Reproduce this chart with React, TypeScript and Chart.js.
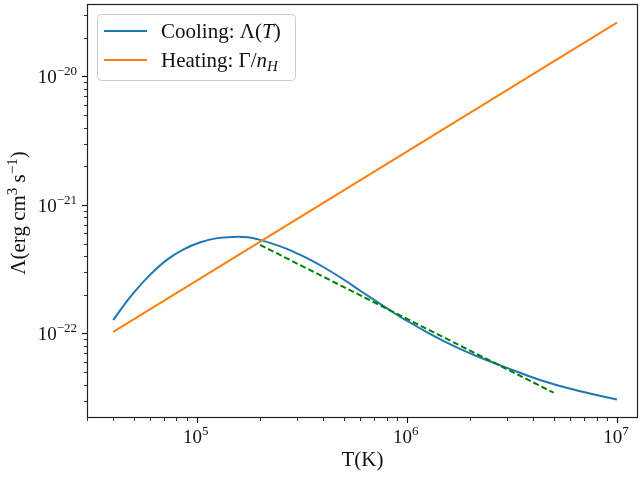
import React, { useEffect, useRef } from "react";
import { Chart, registerables } from "chart.js";

Chart.register(...registerables);

// ---- data ----
const coolingT = [4e4, 4.5e4, 5e4, 6e4, 7.2e4, 8.65e4, 1.04e5, 1.25e5, 1.5e5, 1.75e5, 2e5, 2.5e5, 2.89e5, 3.4e5, 4e5, 5e5, 6e5, 8.65e5, 1e6, 1.25e6, 1.5e6, 1.8e6, 2.2e6, 3e6, 4.3e6, 6.2e6, 1e7];
const coolingL = [1.27e-22, 1.66e-22, 2.07e-22, 2.87e-22, 3.74e-22, 4.51e-22, 5.13e-22, 5.52e-22, 5.64e-22, 5.6e-22, 5.35e-22, 4.76e-22, 4.32e-22, 3.81e-22, 3.29e-22, 2.63e-22, 2.15e-22, 1.45e-22, 1.256e-22, 1.02e-22, 8.71e-23, 7.55e-23, 6.56e-23, 5.4e-23, 4.35e-23, 3.66e-23, 3.06e-23];
const heatingT = [4e4, 1e7];
const heatingL = [1.03e-22, 2.62e-20];
const fitT = [2e5, 5e6];
const fitL = [4.89e-22, 3.46e-23];
const xTickExps = [5, 6, 7];
const yTickExps = [-22, -21, -20];
const X_MIN = 3.0e4;
const X_MAX = 1.26e7;
const Y_MIN = 2.2e-23;
const Y_MAX = 3.66e-20;

const FONT = '"Liberation Serif", "DejaVu Serif", serif';
const TEXT = "#111";

type Seg = { t: string; size: number; italic?: boolean; dy?: number };

function segFont(s: Seg) {
  return `${s.italic ? "italic " : ""}${s.size}px ${FONT}`;
}

function richWidth(ctx: CanvasRenderingContext2D, segs: Seg[]) {
  let w = 0;
  for (const s of segs) {
    ctx.font = segFont(s);
    w += ctx.measureText(s.t).width;
  }
  return w;
}

function drawRich(ctx: CanvasRenderingContext2D, segs: Seg[], x: number, y: number, align: "left" | "center" | "right") {
  const w = richWidth(ctx, segs);
  let cx = align === "center" ? x - w / 2 : align === "right" ? x - w : x;
  ctx.textAlign = "left";
  ctx.textBaseline = "alphabetic";
  for (const s of segs) {
    ctx.font = segFont(s);
    ctx.fillText(s.t, cx, y + (s.dy || 0));
    cx += ctx.measureText(s.t).width;
  }
}

function powSegs(exp: number, size: number): Seg[] {
  const e = exp < 0 ? "\u2212" + Math.abs(exp) : String(exp);
  return [
    { t: "10", size },
    { t: e, size: Math.round(size * 0.7), dy: -Math.round(size * 0.42) },
  ];
}

const mplPlugin = {
  id: "mplAxes",
  afterDatasetsDraw(chart: any) {
    const { ctx, chartArea: a, scales } = chart;
    const xs = scales.x;
    const ys = scales.y;
    ctx.save();
    ctx.strokeStyle = "#000";
    ctx.fillStyle = TEXT;

    // x ticks
    for (let e = 4; e <= 7; e++) {
      for (let m = 1; m <= 9; m++) {
        const v = m * Math.pow(10, e);
        if (v < xs.min || v > xs.max) continue;
        const px = Math.round(xs.getPixelForValue(v)) + 0.5;
        const major = m === 1;
        ctx.lineWidth = major ? 1.1 : 0.8;
        ctx.beginPath();
        ctx.moveTo(px, a.bottom);
        ctx.lineTo(px, a.bottom + (major ? 5 : 3));
        ctx.stroke();
      }
    }
    // y ticks
    for (let e = -23; e <= -20; e++) {
      for (let m = 1; m <= 9; m++) {
        const v = m * Math.pow(10, e);
        if (v < ys.min || v > ys.max) continue;
        const py = Math.round(ys.getPixelForValue(v)) + 0.5;
        const major = m === 1;
        ctx.lineWidth = major ? 1.1 : 0.8;
        ctx.beginPath();
        ctx.moveTo(a.left, py);
        ctx.lineTo(a.left - (major ? 5 : 3), py);
        ctx.stroke();
      }
    }

    // frame
    ctx.lineWidth = 1.2;
    ctx.strokeStyle = "#222";
    ctx.strokeRect(Math.round(a.left) + 0.5, Math.round(a.top) + 0.5, Math.round(a.right - a.left) - 1, Math.round(a.bottom - a.top) - 1);

    // tick labels
    ctx.fillStyle = TEXT;
    for (const e of xTickExps) {
      const px = xs.getPixelForValue(Math.pow(10, e));
      drawRich(ctx, powSegs(e, 19), px - 1, a.bottom + 25, "center");
    }
    for (const e of yTickExps) {
      const py = ys.getPixelForValue(Math.pow(10, e));
      drawRich(ctx, powSegs(e, 19), a.left - 10, py + 7, "right");
    }

    // axis labels
    drawRich(ctx, [{ t: "T(K)", size: 21 }], (a.left + a.right) / 2, 466, "center");
    ctx.save();
    ctx.translate(25, (a.top + a.bottom) / 2 + 2);
    ctx.rotate(-Math.PI / 2);
    drawRich(
      ctx,
      [
        { t: "\u039B(erg cm", size: 21 },
        { t: "3", size: 15, dy: -8 },
        { t: " s", size: 21 },
        { t: "\u22121", size: 15, dy: -8 },
        { t: ")", size: 21 },
      ],
      0,
      0,
      "center"
    );
    ctx.restore();

    // legend
    const bx = 97.5, by = 14.5, bw = 198, bh = 66, r = 4;
    ctx.beginPath();
    ctx.moveTo(bx + r, by);
    ctx.lineTo(bx + bw - r, by);
    ctx.quadraticCurveTo(bx + bw, by, bx + bw, by + r);
    ctx.lineTo(bx + bw, by + bh - r);
    ctx.quadraticCurveTo(bx + bw, by + bh, bx + bw - r, by + bh);
    ctx.lineTo(bx + r, by + bh);
    ctx.quadraticCurveTo(bx, by + bh, bx, by + bh - r);
    ctx.lineTo(bx, by + r);
    ctx.quadraticCurveTo(bx, by, bx + r, by);
    ctx.closePath();
    ctx.fillStyle = "rgba(255,255,255,0.8)";
    ctx.fill();
    ctx.lineWidth = 1;
    ctx.strokeStyle = "#cccccc";
    ctx.stroke();

    const rows = [
      { color: "#1f77b4", y: 31, segs: [{ t: "Cooling: \u039B(", size: 21 }, { t: "T", size: 21, italic: true }, { t: ")", size: 21 }] as Seg[] },
      { color: "#ff7f0e", y: 60, segs: [{ t: "Heating: \u0393/", size: 21 }, { t: "n", size: 21, italic: true }, { t: "H", size: 15, italic: true, dy: 4 }] as Seg[] },
    ];
    for (const row of rows) {
      ctx.strokeStyle = row.color;
      ctx.lineWidth = 2;
      ctx.beginPath();
      ctx.moveTo(104, row.y);
      ctx.lineTo(147, row.y);
      ctx.stroke();
      ctx.fillStyle = TEXT;
      drawRich(ctx, row.segs, 161, row.y + 7, "left");
    }
    ctx.restore();
  },
};

export default function App() {
  const ref = useRef<HTMLCanvasElement>(null);
  useEffect(() => {
    document.body.style.margin = "0";
    const toPts = (xs: number[], ys: number[]) => xs.map((x, i) => ({ x, y: ys[i] }));
    const chart = new Chart(ref.current as HTMLCanvasElement, {
      type: "line",
      data: {
        datasets: [
          {
            label: "Cooling",
            data: toPts(coolingT, coolingL),
            borderColor: "#1f77b4",
            borderWidth: 2,
            pointRadius: 0,
            tension: 0.4,
            fill: false,
            order: 3,
          },
          {
            label: "Heating",
            data: toPts(heatingT, heatingL),
            borderColor: "#ff7f0e",
            borderWidth: 2,
            pointRadius: 0,
            fill: false,
            order: 2,
          },
          {
            label: "Fit",
            data: toPts(fitT, fitL),
            borderColor: "#008000",
            borderWidth: 2,
            borderDash: [6, 3],
            pointRadius: 0,
            fill: false,
            order: 1,
          },
        ],
      },
      options: {
        animation: false,
        responsive: false,
        maintainAspectRatio: false,
        layout: { padding: { left: 0, top: 4, right: 2, bottom: 0 } },
        plugins: { legend: { display: false }, tooltip: { enabled: false } },
        scales: {
          x: {
            type: "logarithmic",
            min: X_MIN,
            max: X_MAX,
            grid: { display: false },
            border: { display: false },
            ticks: { display: false },
            afterFit(s: any) {
              s.height = 59;
            },
          },
          y: {
            type: "logarithmic",
            min: Y_MIN,
            max: Y_MAX,
            grid: { display: false },
            border: { display: false },
            ticks: { display: false },
            afterFit(s: any) {
              s.width = 87;
            },
          },
        },
      } as any,
      plugins: [mplPlugin],
    });
    return () => chart.destroy();
  }, []);
  return (
    <div style={{ width: 640, height: 477 }}>
      <canvas ref={ref} width={640} height={477} style={{ display: "block", width: 640, height: 477 }} />
    </div>
  );
}
